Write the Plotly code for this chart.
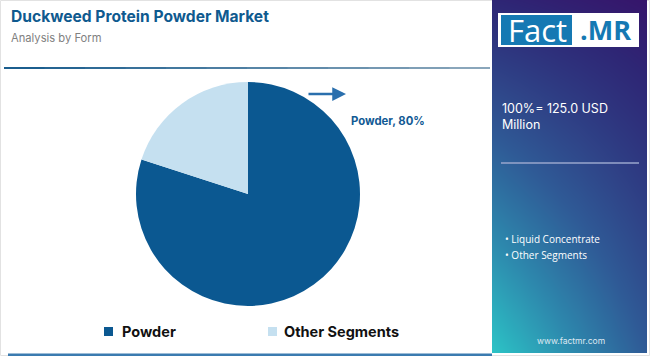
import numpy as np
import plotly.graph_objects as go

# ---- data ----
labels = ["Powder", "Other Segments"]
values = [80, 20]
colors = ["#0b5891", "#c5e0f0"]
title = "Duckweed Protein Powder Market"
subtitle = "Analysis by Form"
total_text = "100%= 125.0 USD<br>Million"
side_segments = ["Liquid Concentrate", "Other Segments"]
callout = "Powder, 80%"

W, H = 650, 356
def px(x):
    return x / W
def py(y):
    return 1 - y / H

fig = go.Figure()

# pie
fig.add_trace(go.Pie(
    labels=labels, values=values, sort=False, direction="clockwise", rotation=0,
    marker=dict(colors=colors, line=dict(width=0)),
    textinfo="none", hoverinfo="skip",
    domain=dict(x=[px(136), px(360)], y=[py(306), py(82)]),
    showlegend=False,
))

# gradient side panel (decorative) via smoothed heatmap
n = 30
gx = np.linspace(0, 1, n)
gy = np.linspace(0, 1, n)  # 0 bottom, 1 top
X, Y = np.meshgrid(gx, gy)
Z = (1 - Y) * (1 - 0.55 * X) + Y * 0.1 * (1 - X)
fig.add_trace(go.Heatmap(
    x=gx, y=gy, z=Z, zsmooth="best", showscale=False, hoverinfo="skip",
    colorscale=[[0, "#36156b"], [0.1, "#2e2675"], [0.45, "#2f5a96"], [0.7, "#2d88ad"], [1, "#2cc4c6"]],
    zmin=0, zmax=1, xaxis="x", yaxis="y",
))

fig.update_layout(
    width=W, height=H, margin=dict(l=0, r=0, t=0, b=0),
    paper_bgcolor="white", plot_bgcolor="white",
    font=dict(family="Inter, Roboto, sans-serif"),
    xaxis=dict(domain=[px(492), px(647)], range=[0, 1], visible=False, fixedrange=True),
    yaxis=dict(domain=[py(353), 1], range=[0, 1], visible=False, fixedrange=True),
    showlegend=False,
)

shapes = []
# outer light border
shapes.append(dict(type="rect", xref="paper", yref="paper", x0=px(0.5), x1=px(649.5), y0=py(355.5), y1=py(0.5),
                   line=dict(color="#e2e2e2", width=1), layer="below"))
# top separator gradient line (filled rects)
seg = 12
c0 = np.array([0x1b, 0x5e, 0x8e]); c1 = np.array([0x8a, 0xa6, 0xbb])
for i in range(seg):
    t = i / (seg - 1)
    c = (c0 * (1 - t) + c1 * t).astype(int)
    xa = 4 + (490 - 4) * i / seg
    xb = 4 + (490 - 4) * (i + 1) / seg + 1
    shapes.append(dict(type="rect", xref="paper", yref="paper", x0=px(xa), x1=px(min(xb, 490)),
                       y0=py(69), y1=py(67), fillcolor="rgb(%d,%d,%d)" % tuple(c), line=dict(width=0)))
# bottom line
shapes.append(dict(type="rect", xref="paper", yref="paper", x0=px(8), x1=px(492), y0=py(356), y1=py(353.5),
                   fillcolor="#3b7bb0", line=dict(width=0)))
# logo
shapes.append(dict(type="rect", xref="paper", yref="paper", x0=px(498), x1=px(639), y0=py(47), y1=py(13),
                   fillcolor="white", line=dict(width=0)))
shapes.append(dict(type="rect", xref="paper", yref="paper", x0=px(501), x1=px(572), y0=py(45), y1=py(15),
                   fillcolor="#1579b3", line=dict(width=0)))
# panel divider line
shapes.append(dict(type="line", xref="paper", yref="paper", x0=px(501), x1=px(639), y0=py(163), y1=py(163),
                   line=dict(color="#9aa6cc", width=1.5)))
# legend squares
legend_x = [104, 268]
legend_text_x = [120, 282]
for lx, col in zip(legend_x, colors):
    shapes.append(dict(type="rect", xref="paper", yref="paper", x0=px(lx), x1=px(lx + 9), y0=py(336), y1=py(327),
                       fillcolor=col, line=dict(width=0)))
fig.update_layout(shapes=shapes)

ann = []
ann.append(dict(text="<b>" + title + "</b>", x=px(9), y=py(16), xanchor="left", yanchor="middle",
                font=dict(size=15.6, color="#0f5a8f", family="Inter, sans-serif")))
ann.append(dict(text=subtitle, x=px(9), y=py(38), xanchor="left", yanchor="middle",
                font=dict(size=11.2, color="#808080", family="Inter, sans-serif")))
ann.append(dict(text="Fact", x=px(537), y=py(30), xanchor="center", yanchor="middle",
                font=dict(size=31, color="white", family="Open Sans, sans-serif")))
ann.append(dict(text="<b>.MR</b>", x=px(605), y=py(30), xanchor="center", yanchor="middle",
                font=dict(size=27, color="#1579b3", family="Open Sans, sans-serif")))
ann.append(dict(text=total_text, x=px(500), y=py(116), xanchor="left", yanchor="middle", align="left",
                font=dict(size=12.5, color="white", family="Inter, sans-serif")))
for i, s in enumerate(side_segments):
    ann.append(dict(text="• " + s, x=px(503), y=py(239 + 16 * i), xanchor="left",
                    yanchor="middle", align="left",
                    font=dict(size=10, color="white", family="Open Sans, sans-serif")))
ann.append(dict(text="www.factmr.com", x=px(571), y=py(341), xanchor="center", yanchor="middle",
                font=dict(size=8.5, color="#dfe8f2", family="Inter, sans-serif")))
ann.append(dict(text="<b>" + callout + "</b>", x=px(349), y=py(121), xanchor="left", yanchor="middle",
                font=dict(size=11.3, color="#125a94", family="Inter, sans-serif")))
for tx, lab in zip(legend_text_x, labels):
    ann.append(dict(text="<b>" + lab + "</b>", x=px(tx), y=py(331.5), xanchor="left", yanchor="middle",
                    font=dict(size=14.5, color="#111111", family="Inter, sans-serif")))
# arrow
ann.append(dict(text="", x=px(346), y=py(94), ax=-39, ay=0, axref="pixel", ayref="pixel",
                showarrow=True, arrowhead=2, arrowsize=1.1, arrowwidth=2.5,
                arrowcolor="#2a6fad"))
for a in ann:
    a.setdefault("xref", "paper"); a.setdefault("yref", "paper"); a.setdefault("showarrow", False)
fig.update_layout(annotations=ann)

fig.write_html("out.html")
